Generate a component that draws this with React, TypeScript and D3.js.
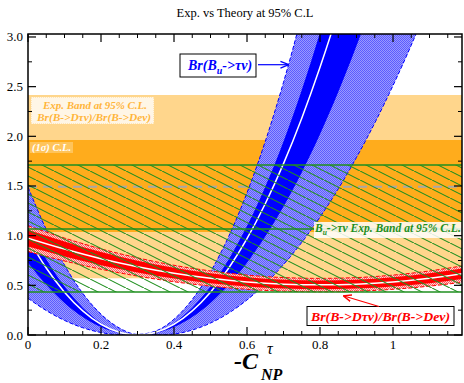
import React from 'react';
import * as d3 from 'd3';

const W = 464;
const H = 383;

const xDomain = [0, 1.189];
const yDomain = [0, 3.03];

const xMajorTicks = [0, 0.2, 0.4, 0.6, 0.8, 1.0];
const xTickLabels = ['0', '0.2', '0.4', '0.6', '0.8', '1'];
const yMajorTicks = [0, 0.5, 1.0, 1.5, 2.0, 2.5, 3.0];
const yTickLabels = ['0.0', '0.5', '1.0', '1.5', '2.0', '2.5', '3.0'];

// Br(B_u -> tau nu) theory bands vs -C_NP
const blueX = [0, 0.05, 0.1, 0.15, 0.2, 0.25, 0.3, 0.35, 0.4, 0.45, 0.5, 0.55, 0.6, 0.65, 0.7, 0.75, 0.8, 0.85, 0.9, 0.95, 1.0, 1.05, 1.1];
const blueOuter = [1.49, 1.061, 0.704, 0.42, 0.21, 0.071, 0.006, 0.04, 0.159, 0.358, 0.636, 0.994, 1.431, 1.948, 2.544, 3.22, 3.975, 4.81, 5.72, 6.72, 7.79, 8.94, 10.18];
const blueInner = [0.37, 0.246, 0.147, 0.073, 0.025, 0.002, 0, 0, 0.01, 0.05, 0.12, 0.221, 0.353, 0.516, 0.709, 0.932, 1.187, 1.472, 1.788, 2.134, 2.511, 2.918, 3.357];
const blueDarkUpper = [1.096, 0.762, 0.487, 0.275, 0.122, 0.031, 0, 0.031, 0.122, 0.275, 0.487, 0.762, 1.096, 1.493, 1.949, 2.467, 3.045, 3.685, 4.385, 5.147, 5.969, 6.852, 7.796];
const blueDarkLower = [0.728, 0.506, 0.323, 0.182, 0.081, 0.02, 0, 0.02, 0.081, 0.182, 0.323, 0.506, 0.728, 0.991, 1.294, 1.637, 2.021, 2.446, 2.911, 3.416, 3.962, 4.548, 5.175];
const blueCentral = [0.97, 0.674, 0.431, 0.243, 0.108, 0.027, 0, 0.027, 0.108, 0.243, 0.431, 0.674, 0.97, 1.321, 1.725, 2.183, 2.695, 3.261, 3.881, 4.555, 5.282, 6.064, 6.899];

// Br(B->D tau nu)/Br(B->D e nu) theory bands
const redX = [0, 0.1, 0.2, 0.3, 0.4, 0.5, 0.6, 0.7, 0.8, 0.9, 1.0, 1.1, 1.2];
const redCentral = [0.975, 0.865, 0.768, 0.688, 0.622, 0.571, 0.534, 0.512, 0.505, 0.512, 0.534, 0.571, 0.622];
const redDarkUpper = [1.06, 0.94, 0.835, 0.748, 0.676, 0.621, 0.581, 0.557, 0.549, 0.557, 0.581, 0.621, 0.676];
const redDarkLower = [0.89, 0.79, 0.701, 0.628, 0.568, 0.521, 0.487, 0.467, 0.461, 0.467, 0.487, 0.521, 0.568];
const redOuterUpper = [1.1, 0.976, 0.867, 0.777, 0.702, 0.645, 0.603, 0.578, 0.57, 0.578, 0.603, 0.645, 0.702];
const redOuterLower = [0.84, 0.745, 0.662, 0.593, 0.536, 0.492, 0.46, 0.441, 0.435, 0.441, 0.46, 0.492, 0.536];

// Experimental bands
const orangeBand95 = [0.571, 2.416];
const orangeBandInner = [1.037, 1.963];
const orangeCentral = 1.493;
const greenBand95 = [0.433, 1.711];
const greenCentral = 1.067;

const SERIF = '"Liberation Serif", "DejaVu Serif", serif';

export default function App() {
  const left = 28, right = 462, top = 34, bottom = 335;
  const x = d3.scaleLinear().domain(xDomain).range([left, right]);
  const y = d3.scaleLinear().domain(yDomain).range([bottom, top]);

  const mk = (xs: number[], lo: number[], hi: number[]) => xs.map((v, i) => ({ x: v, lo: lo[i], hi: hi[i] }));
  const area = d3.area<{ x: number; lo: number; hi: number }>()
    .x(d => x(d.x)).y0(d => y(d.lo)).y1(d => y(d.hi)).curve(d3.curveMonotoneX);
  const line = (xs: number[], ys: number[]) =>
    d3.line<number>().x((_, i) => x(xs[i])).y(v => y(v)).curve(d3.curveMonotoneX)(ys) || '';

  const blueLight = area(mk(blueX, blueInner, blueOuter)) || '';
  const blueDark = area(mk(blueX, blueDarkLower, blueDarkUpper)) || '';
  const redLight = area(mk(redX, redOuterLower, redOuterUpper)) || '';
  const redDark = area(mk(redX, redDarkLower, redDarkUpper)) || '';

  const xMinor = d3.range(0, xDomain[1] + 1e-9, 0.05).filter(v => !xMajorTicks.some(m => Math.abs(m - v) < 1e-6));
  const yMinor = d3.range(0.25, yDomain[1], 0.5);

  const pw = right - left;
  const lbl = { fontFamily: SERIF, fontStyle: 'italic', fontWeight: 'bold' } as const;

  return (
    <svg width={W} height={H} style={{ position: 'absolute', left: 0, top: 0, background: '#fff' }}>
      <defs>
        <clipPath id="plot">
          <rect x={left} y={top} width={pw} height={bottom - top} />
        </clipPath>
        <pattern id="hatch" width={18} height={9} patternUnits="userSpaceOnUse">
          <line x1={-1} y1={-0.5} x2={19} y2={9.5} stroke="#1f8f1f" strokeWidth={1.1} />
        </pattern>
        <pattern id="lblue" width={2} height={2} patternUnits="userSpaceOnUse">
          <rect width={2} height={2} fill="#9a9aff" />
          <rect width={1} height={1} fill="#5c5cff" />
          <rect x={1} y={1} width={1} height={1} fill="#5c5cff" />
        </pattern>
        <pattern id="pink" width={2} height={2} patternUnits="userSpaceOnUse">
          <rect width={2} height={2} fill="#ffd0d0" />
          <rect width={1} height={1} fill="#ff6060" />
          <rect x={1} y={1} width={1} height={1} fill="#ff6060" />
        </pattern>
        <marker id="arrB" viewBox="0 0 10 10" refX={9} refY={5} markerWidth={7} markerHeight={7} orient="auto">
          <path d="M0,1 L10,5 L0,9" fill="none" stroke="#0000ff" strokeWidth={1.6} />
        </marker>
        <marker id="arrR" viewBox="0 0 10 10" refX={9} refY={5} markerWidth={7} markerHeight={7} orient="auto">
          <path d="M0,1 L10,5 L0,9" fill="none" stroke="#ff0000" strokeWidth={1.6} />
        </marker>
      </defs>

      <text x={245} y={17} textAnchor="middle" fontFamily={SERIF} fontSize={12.5}>Exp. vs Theory at 95% C.L</text>

      <g clipPath="url(#plot)">
        <rect x={left} width={pw} y={y(orangeBand95[1])} height={y(orangeBand95[0]) - y(orangeBand95[1])} fill="#ffd68c" />
        <rect x={left} width={pw} y={y(orangeBandInner[1])} height={y(orangeBandInner[0]) - y(orangeBandInner[1])} fill="#ffac1c" />
        <line x1={left} x2={right} y1={y(orangeCentral)} y2={y(orangeCentral)} stroke="#a8a8a8" strokeWidth={2} strokeDasharray="9,6" />

        <path d={blueLight} fill="url(#lblue)" />
        <path d={line(blueX, blueOuter)} fill="none" stroke="#0000ff" strokeWidth={1} strokeDasharray="4,2" />
        <path d={line(blueX, blueInner)} fill="none" stroke="#0000ff" strokeWidth={1} strokeDasharray="4,2" />
        <path d={blueDark} fill="#0000ff" />
        <path d={line(blueX, blueCentral)} fill="none" stroke="#ffffff" strokeWidth={1.5} />

        <path d={redLight} fill="url(#pink)" />
        <path d={line(redX, redOuterUpper)} fill="none" stroke="#ff0000" strokeWidth={1} strokeDasharray="4,2" />
        <path d={line(redX, redOuterLower)} fill="none" stroke="#ff0000" strokeWidth={1} strokeDasharray="4,2" />
        <path d={redDark} fill="#ff0000" />
        <path d={line(redX, redCentral)} fill="none" stroke="#ffffff" strokeWidth={1.5} />

        <rect x={left} width={pw} y={y(greenBand95[1])} height={y(greenBand95[0]) - y(greenBand95[1])} fill="url(#hatch)" />
        {[greenBand95[0], greenCentral, greenBand95[1]].map((v, i) => (
          <line key={i} x1={left} x2={right} y1={y(v)} y2={y(v)} stroke="#1f8f1f" strokeWidth={1.4} />
        ))}
      </g>

      <rect x={31} y={97} width={123} height={27} fill="#fff6e6" stroke="#ffd68c" strokeWidth={1} strokeDasharray="1,1" />
      <text x={43} y={108.5} fontSize={11} fill="#ffb53a" textLength={104} lengthAdjust="spacingAndGlyphs" {...lbl}>Exp. Band at 95% C.L.</text>
      <text x={37} y={120.5} fontSize={11} fill="#ffb53a" textLength={114} lengthAdjust="spacingAndGlyphs" {...lbl}>Br(B-&gt;Dτν)/Br(B-&gt;Deν)</text>

      <rect x={30} y={142} width={43} height={11} fill="#ffc45a" />
      <text x={32} y={151} fontSize={9.5} fill="#ffffff" textLength={39} lengthAdjust="spacingAndGlyphs" {...lbl}>(1σ) C.L.</text>

      <rect x={314} y={222} width={148} height={16} fill="#ffffff" opacity={0.85} />
      <text x={315} y={232} fontSize={11.5} fill="#1f8f1f" {...lbl}>
        B<tspan dy={3} fontSize={7.5}>u</tspan><tspan dy={-3} textLength={134} lengthAdjust="spacingAndGlyphs">-&gt;τν Exp. Band at 95% C.L.</tspan>
      </text>

      <rect x={180} y={54} width={76} height={23} fill="#ffffff" stroke="#000" strokeWidth={1} />
      <text x={188} y={69.5} fontSize={14} fill="#0000ff" {...lbl}>
        Br(B<tspan dy={4} fontSize={10}>u</tspan><tspan dy={-4}>-&gt;τν)</tspan>
      </text>
      <line x1={258} y1={64.7} x2={288} y2={64.7} stroke="#0000ff" strokeWidth={1.2} markerEnd="url(#arrB)" />

      <rect x={307} y={306.5} width={147} height={19} fill="#ffffff" stroke="#000" strokeWidth={1} />
      <text x={311} y={320.5} fontSize={13} fill="#ff0000" textLength={139} lengthAdjust="spacingAndGlyphs" {...lbl}>Br(B-&gt;Dτν)/Br(B-&gt;Deν)</text>
      <line x1={379} y1={306.5} x2={344} y2={296} stroke="#ff0000" strokeWidth={1.2} markerEnd="url(#arrR)" />

      <rect x={left} y={top} width={pw} height={bottom - top} fill="none" stroke="#000" strokeWidth={1.5} />

      {xMajorTicks.map((v, i) => (
        <g key={'xm' + i}>
          <line x1={x(v)} x2={x(v)} y1={bottom} y2={bottom - 8} stroke="#000" strokeWidth={1.2} />
          <line x1={x(v)} x2={x(v)} y1={top} y2={top + 8} stroke="#000" strokeWidth={1.2} />
          <text x={x(v)} y={349} textAnchor="middle" fontFamily={SERIF} fontSize={13}>{xTickLabels[i]}</text>
        </g>
      ))}
      {xMinor.map((v, i) => (
        <g key={'xn' + i}>
          <line x1={x(v)} x2={x(v)} y1={bottom} y2={bottom - 4} stroke="#000" strokeWidth={1} />
          <line x1={x(v)} x2={x(v)} y1={top} y2={top + 4} stroke="#000" strokeWidth={1} />
        </g>
      ))}
      {yMajorTicks.map((v, i) => (
        <g key={'ym' + i}>
          <line x1={left} x2={left + 8} y1={y(v)} y2={y(v)} stroke="#000" strokeWidth={1.2} />
          <line x1={right} x2={right - 8} y1={y(v)} y2={y(v)} stroke="#000" strokeWidth={1.2} />
          <text x={23} y={y(v) + 4.5} textAnchor="end" fontFamily={SERIF} fontSize={13}>{yTickLabels[i]}</text>
        </g>
      ))}
      {yMinor.map((v, i) => (
        <g key={'yn' + i}>
          <line x1={left} x2={left + 4} y1={y(v)} y2={y(v)} stroke="#000" strokeWidth={1} />
          <line x1={right} x2={right - 4} y1={y(v)} y2={y(v)} stroke="#000" strokeWidth={1} />
        </g>
      ))}

      <text x={234} y={369} fontSize={24} {...lbl}>-C</text>
      <text x={267} y={354} fontFamily={SERIF} fontSize={16} fontStyle="italic">τ</text>
      <text x={261} y={380} fontSize={16} {...lbl}>NP</text>
    </svg>
  );
}
